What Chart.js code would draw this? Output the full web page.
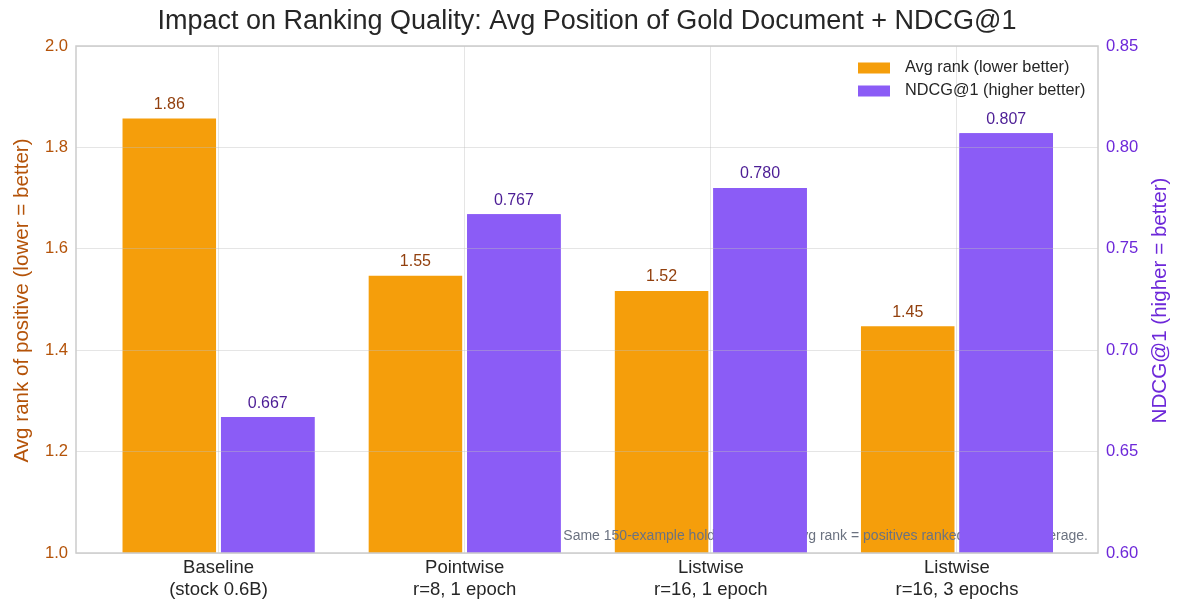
<!DOCTYPE html>
<html>
<head>
<meta charset="utf-8">
<script src="https://cdn.jsdelivr.net/npm/chart.js@4.4.1/dist/chart.umd.min.js"></script>
<style>
  html, body { margin: 0; padding: 0; background: #fff; overflow: hidden; }
</style>
</head>
<body>
<canvas id="graficoRanking" width="1184" height="615"></canvas>
<script>
// dados
const categorias = [
    ['Baseline', '(stock 0.6B)'],
    ['Pointwise', 'r=8, 1 epoch'],
    ['Listwise', 'r=16, 1 epoch'],
    ['Listwise', 'r=16, 3 epochs']
];
const avgRank = [1.857, 1.547, 1.517, 1.447];
const ndcg1 = [0.667, 0.767, 0.780, 0.807];
const ticksRank = [1.0, 1.2, 1.4, 1.6, 1.8, 2.0];
const ticksNdcg = [0.60, 0.65, 0.70, 0.75, 0.80, 0.85];
const posicoesX = [0, 1, 2, 3];

const titulo = 'Impact on Ranking Quality: Avg Position of Gold Document + NDCG@1';
const tituloEsq = 'Avg rank of positive (lower = better)';
const tituloDir = 'NDCG@1 (higher = better)';
const legendaRank = 'Avg rank (lower better)';
const legendaNdcg = 'NDCG@1 (higher better)';
const nota = 'Same 150-example holdout queries. Avg rank = positives ranked higher, on average.';

const FONTE = '"Liberation Sans", Arial, sans-serif';
const LARANJA = '#f59e0b';
const ROXO = '#8b5cf6';
const COR_ESQ = '#b45309';
const COR_DIR = '#6d28d9';
const GRADE = 'rgba(190,190,190,0.4)';

Chart.defaults.font.family = FONTE;

const extras = {
    id: 'extras',
    afterDatasetsDraw(chart) {
        // a nota fica por cima das barras laranja e por baixo das roxas
        const {ctx, chartArea: a} = chart;
        ctx.save();
        ctx.font = '14px ' + FONTE;
        ctx.fillStyle = '#6b7280';
        ctx.textAlign = 'right';
        ctx.textBaseline = 'middle';
        ctx.fillText(nota, a.right - 10, a.bottom - 17);
        ctx.restore();

        ctx.save();
        ctx.beginPath();
        ctx.rect(a.left, a.top, a.right - a.left, a.bottom - a.top);
        ctx.clip();
        chart.getDatasetMeta(1).controller.draw();
        ctx.restore();
    },
    afterDraw(chart) {
        const {ctx, chartArea: a} = chart;
        ctx.save();

        // titulo centrado na area do grafico
        ctx.font = '27px ' + FONTE;
        ctx.fillStyle = '#262626';
        ctx.textAlign = 'center';
        ctx.textBaseline = 'middle';
        ctx.fillText(titulo, (a.left + a.right) / 2, 22);

        // moldura
        ctx.strokeStyle = '#cccccc';
        ctx.lineWidth = 1.5;
        ctx.strokeRect(a.left, a.top, a.right - a.left, a.bottom - a.top);

        // valores em cima das barras
        ctx.font = '16px ' + FONTE;
        ctx.textAlign = 'center';
        ctx.textBaseline = 'bottom';
        const cores = ['#92400e', '#4c1d95'];
        const fmt = [v => v.toFixed(2), v => v.toFixed(3)];
        chart.data.datasets.forEach((ds, d) => {
            chart.getDatasetMeta(d).data.forEach((barra, i) => {
                ctx.fillStyle = cores[d];
                ctx.fillText(fmt[d](ds.data[i].y), barra.x, barra.y - 6);
            });
        });

        // legenda dentro do grafico
        ctx.font = '16.3px ' + FONTE;
        ctx.textAlign = 'left';
        ctx.textBaseline = 'middle';
        const lx = a.right - 240;
        [[LARANJA, legendaRank], [ROXO, legendaNdcg]].forEach(([cor, txt], k) => {
            const cy = a.top + 22 + k * 23;
            ctx.fillStyle = cor;
            ctx.fillRect(lx, cy - 5.5, 32, 11);
            ctx.fillStyle = '#262626';
            ctx.fillText(txt, lx + 47, cy);
        });

        // titulos dos eixos, ambos de baixo para cima
        const cy = (a.top + a.bottom) / 2 + 1;
        ctx.font = '20.6px ' + FONTE;
        ctx.textAlign = 'center';
        ctx.textBaseline = 'middle';
        ctx.translate(22, cy);
        ctx.rotate(-Math.PI / 2);
        ctx.fillStyle = COR_ESQ;
        ctx.fillText(tituloEsq, 0, 0);
        ctx.setTransform(1, 0, 0, 1, 0, 0);
        ctx.translate(chart.width - 24, cy);
        ctx.rotate(-Math.PI / 2);
        ctx.fillStyle = COR_DIR;
        ctx.fillText(tituloDir, 0, 0);
        ctx.restore();
    }
};

let ctx = document.getElementById('graficoRanking').getContext('2d');

let grafico = new Chart(ctx, {
    type: 'bar',
    data: {
        datasets: [{
            label: legendaRank,
            data: avgRank.map((v, i) => ({x: posicoesX[i], y: v})),
            backgroundColor: LARANJA,
            yAxisID: 'y',
            categoryPercentage: 0.8,
            barPercentage: 0.95
        }, {
            label: legendaNdcg,
            data: ndcg1.map((v, i) => ({x: posicoesX[i], y: v})),
            backgroundColor: ROXO,
            yAxisID: 'y2',
            categoryPercentage: 0.8,
            barPercentage: 0.95
        }]
    },
    options: {
        responsive: false,
        animation: false,
        devicePixelRatio: 1,
        layout: {padding: {top: 46}},
        plugins: {
            legend: {display: false},
            tooltip: {enabled: false},
            title: {display: false}
        },
        scales: {
            x: {
                type: 'linear',
                min: -0.579,
                max: 3.573,
                offset: false,
                afterBuildTicks: s => { s.ticks = posicoesX.map(v => ({value: v})); },
                afterFit: s => { s.height = 62; },
                ticks: {
                    callback: (v, i) => categorias[i],
                    color: '#262626',
                    font: {size: 18.5, lineHeight: '22px'},
                    padding: 4,
                    maxRotation: 0,
                    autoSkip: false
                },
                grid: {offset: false, drawTicks: false, color: GRADE, z: 1},
                border: {display: false}
            },
            y: {
                position: 'left',
                min: 1.0,
                max: 2.0,
                afterBuildTicks: s => { s.ticks = ticksRank.map(v => ({value: v})); },
                afterFit: s => { s.width = 76; },
                ticks: {
                    callback: v => v.toFixed(1),
                    color: COR_ESQ,
                    font: {size: 16.6},
                    padding: 8
                },
                grid: {drawTicks: false, color: GRADE, z: 1},
                border: {display: false}
            },
            y2: {
                position: 'right',
                min: 0.60,
                max: 0.85,
                afterBuildTicks: s => { s.ticks = ticksNdcg.map(v => ({value: v})); },
                afterFit: s => { s.width = 86; },
                ticks: {
                    callback: v => v.toFixed(2),
                    color: COR_DIR,
                    font: {size: 16.6},
                    padding: 8
                },
                grid: {display: false, drawTicks: false},
                border: {display: false}
            }
        }
    },
    plugins: [extras]
});
</script>
</body>
</html>
